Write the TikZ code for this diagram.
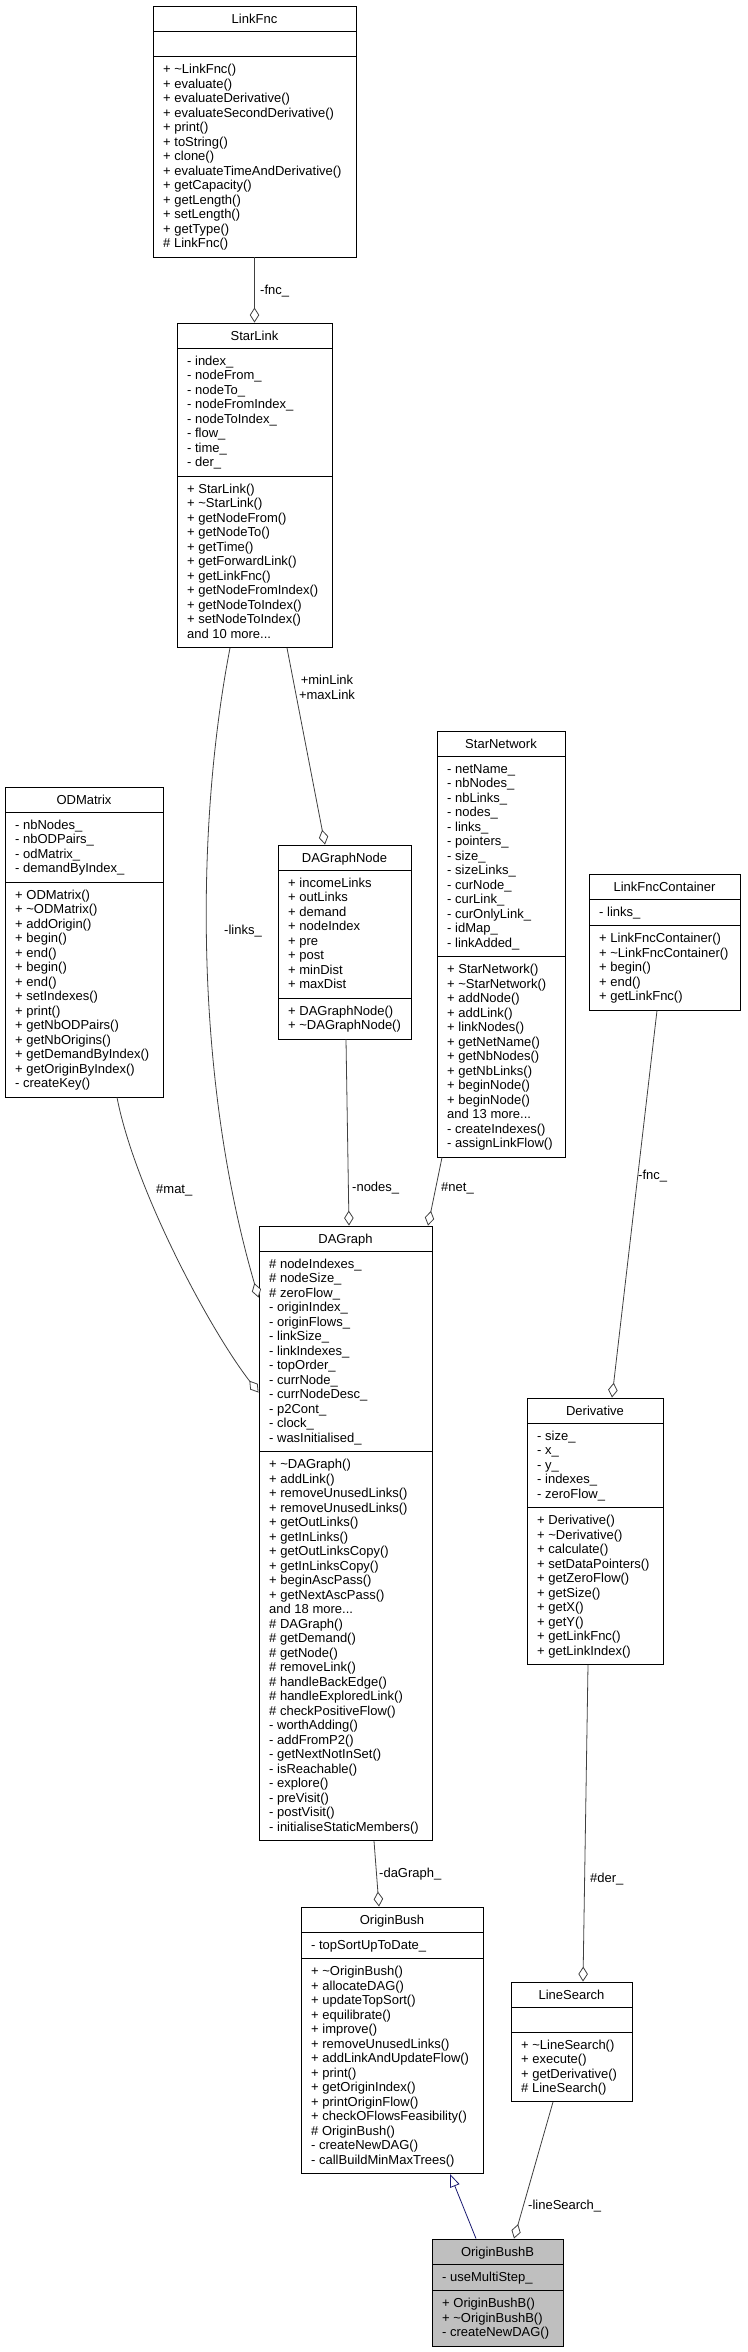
\documentclass[tikz,border=0pt]{standalone}
\usepackage{fontspec}
\setmainfont{Liberation Sans}
\usetikzlibrary{arrows.meta,fit}
\definecolor{edgegray}{HTML}{404040}
\definecolor{midnightblue}{HTML}{191970}
\definecolor{bushgray}{HTML}{BFBFBF}
\newcommand{\umlfont}{\fontsize{13}{14.5}\selectfont}
\newcommand{\dtor}{\textasciitilde}
\tikzset{
  classbox/.style={draw=black, line width=0.9pt, inner sep=0pt},
  classname/.style={anchor=base, inner sep=0pt, font=\umlfont},
  members/.style={anchor=north west, inner sep=0pt, align=left, font=\umlfont},
  elabel/.style={anchor=base west, inner sep=0pt, font=\umlfont},
  agg/.style={draw=edgegray, line width=0.8pt, -{Diamond[fill=white, length=15pt, width=9.5pt]}},
  inherit/.style={draw=midnightblue, line width=0.8pt, -{Triangle[fill=white, length=13pt, width=10pt]}}
}
\begin{document}
\begin{tikzpicture}[x=1pt, y=-1pt]
\useasboundingbox (0,0) rectangle (747,2352);
% LinkFnc
\node[classbox, fit={(153,6.5) (356,257)}] (linkfnc) {};
\node[classname] (linkfncname) at (254.5,23.5) {LinkFnc};
\draw (153,31.5) -- (356,31.5);
\draw (153,56.5) -- (356,56.5);
\node[members] (linkfncops) at (163,63.6) {\strut+ \dtor LinkFnc()\\+ evaluate()\\+ evaluateDerivative()\\+ evaluateSecondDerivative()\\+ print()\\+ toString()\\+ clone()\\+ evaluateTimeAndDerivative()\\+ getCapacity()\\+ getLength()\\+ setLength()\\+ getType()\\\# LinkFnc()};
% StarLink
\node[classbox, fit={(177,323) (332,647.5)}] (starlink) {};
\node[classname] (starlinkname) at (254.5,340) {StarLink};
\draw (177,348) -- (332,348);
\draw (177,476) -- (332,476);
\node[members] (starlinkattr) at (187,355.1) {\strut- index\_\\- nodeFrom\_\\- nodeTo\_\\- nodeFromIndex\_\\- nodeToIndex\_\\- flow\_\\- time\_\\- der\_};
\node[members] (starlinkops) at (187,483.1) {\strut+ StarLink()\\+ \dtor StarLink()\\+ getNodeFrom()\\+ getNodeTo()\\+ getTime()\\+ getForwardLink()\\+ getLinkFnc()\\+ getNodeFromIndex()\\+ getNodeToIndex()\\+ setNodeToIndex()\\and 10 more...};
% ODMatrix
\node[classbox, fit={(5,787) (163,1097)}] (odmatrix) {};
\node[classname] (odmatrixname) at (84,804) {ODMatrix};
\draw (5,812) -- (163,812);
\draw (5,882) -- (163,882);
\node[members] (odmatrixattr) at (15,819.1) {\strut- nbNodes\_\\- nbODPairs\_\\- odMatrix\_\\- demandByIndex\_};
\node[members] (odmatrixops) at (15,889.1) {\strut+ ODMatrix()\\+ \dtor ODMatrix()\\+ addOrigin()\\+ begin()\\+ end()\\+ begin()\\+ end()\\+ setIndexes()\\+ print()\\+ getNbODPairs()\\+ getNbOrigins()\\+ getDemandByIndex()\\+ getOriginByIndex()\\- createKey()};
% DAGraphNode
\node[classbox, fit={(278,845) (411,1039)}] (dagraphnode) {};
\node[classname] (dagraphnodename) at (344.5,862) {DAGraphNode};
\draw (278,870) -- (411,870);
\draw (278,998) -- (411,998);
\node[members] (dagraphnodeattr) at (288,877.1) {\strut+ incomeLinks\\+ outLinks\\+ demand\\+ nodeIndex\\+ pre\\+ post\\+ minDist\\+ maxDist};
\node[members] (dagraphnodeops) at (288,1005.1) {\strut+ DAGraphNode()\\+ \dtor DAGraphNode()};
% StarNetwork
\node[classbox, fit={(437,731) (565,1157)}] (starnetwork) {};
\node[classname] (starnetworkname) at (501,748) {StarNetwork};
\draw (437,756) -- (565,756);
\draw (437,956.5) -- (565,956.5);
\node[members] (starnetworkattr) at (447,763.1) {\strut- netName\_\\- nbNodes\_\\- nbLinks\_\\- nodes\_\\- links\_\\- pointers\_\\- size\_\\- sizeLinks\_\\- curNode\_\\- curLink\_\\- curOnlyLink\_\\- idMap\_\\- linkAdded\_};
\node[members] (starnetworkops) at (447,963.6) {\strut+ StarNetwork()\\+ \dtor StarNetwork()\\+ addNode()\\+ addLink()\\+ linkNodes()\\+ getNetName()\\+ getNbNodes()\\+ getNbLinks()\\+ beginNode()\\+ beginNode()\\and 13 more...\\- createIndexes()\\- assignLinkFlow()};
% LinkFncContainer
\node[classbox, fit={(589,874) (740,1010)}] (linkfnccontainer) {};
\node[classname] (linkfnccontainername) at (664.5,891) {LinkFncContainer};
\draw (589,899) -- (740,899);
\draw (589,925.5) -- (740,925.5);
\node[members] (linkfnccontainerattr) at (599,906.1) {\strut- links\_};
\node[members] (linkfnccontainerops) at (599,932.6) {\strut+ LinkFncContainer()\\+ \dtor LinkFncContainer()\\+ begin()\\+ end()\\+ getLinkFnc()};
% DAGraph
\node[classbox, fit={(259,1226) (432,1840.5)}] (dagraph) {};
\node[classname] (dagraphname) at (345.5,1243) {DAGraph};
\draw (259,1251) -- (432,1251);
\draw (259,1451.5) -- (432,1451.5);
\node[members] (dagraphattr) at (269,1258.1) {\strut\# nodeIndexes\_\\\# nodeSize\_\\\# zeroFlow\_\\- originIndex\_\\- originFlows\_\\- linkSize\_\\- linkIndexes\_\\- topOrder\_\\- currNode\_\\- currNodeDesc\_\\- p2Cont\_\\- clock\_\\- wasInitialised\_};
\node[members] (dagraphops) at (269,1458.6) {\strut+ \dtor DAGraph()\\+ addLink()\\+ removeUnusedLinks()\\+ removeUnusedLinks()\\+ getOutLinks()\\+ getInLinks()\\+ getOutLinksCopy()\\+ getInLinksCopy()\\+ beginAscPass()\\+ getNextAscPass()\\and 18 more...\\\# DAGraph()\\\# getDemand()\\\# getNode()\\\# removeLink()\\\# handleBackEdge()\\\# handleExploredLink()\\\# checkPositiveFlow()\\- worthAdding()\\- addFromP2()\\- getNextNotInSet()\\- isReachable()\\- explore()\\- preVisit()\\- postVisit()\\- initialiseStaticMembers()};
% Derivative
\node[classbox, fit={(527,1398) (663,1664.5)}] (derivative) {};
\node[classname] (derivativename) at (595,1415) {Derivative};
\draw (527,1423) -- (663,1423);
\draw (527,1507.5) -- (663,1507.5);
\node[members] (derivativeattr) at (537,1430.1) {\strut- size\_\\- x\_\\- y\_\\- indexes\_\\- zeroFlow\_};
\node[members] (derivativeops) at (537,1514.6) {\strut+ Derivative()\\+ \dtor Derivative()\\+ calculate()\\+ setDataPointers()\\+ getZeroFlow()\\+ getSize()\\+ getX()\\+ getY()\\+ getLinkFnc()\\+ getLinkIndex()};
% OriginBush
\node[classbox, fit={(301,1907) (483,2173.5)}] (originbush) {};
\node[classname] (originbushname) at (392,1924) {OriginBush};
\draw (301,1932) -- (483,1932);
\draw (301,1958.5) -- (483,1958.5);
\node[members] (originbushattr) at (311,1939.1) {\strut- topSortUpToDate\_};
\node[members] (originbushops) at (311,1965.6) {\strut+ \dtor OriginBush()\\+ allocateDAG()\\+ updateTopSort()\\+ equilibrate()\\+ improve()\\+ removeUnusedLinks()\\+ addLinkAndUpdateFlow()\\+ print()\\+ getOriginIndex()\\+ printOriginFlow()\\+ checkOFlowsFeasibility()\\\# OriginBush()\\- createNewDAG()\\- callBuildMinMaxTrees()};
% LineSearch
\node[classbox, fit={(511,1982) (632,2101.5)}] (linesearch) {};
\node[classname] (linesearchname) at (571.5,1999) {LineSearch};
\draw (511,2007) -- (632,2007);
\draw (511,2032) -- (632,2032);
\node[members] (linesearchops) at (521,2039.1) {\strut+ \dtor LineSearch()\\+ execute()\\+ getDerivative()\\\# LineSearch()};
% OriginBushB
\node[classbox, fill=bushgray, fit={(432,2239) (563,2346)}] (originbushb) {};
\node[classname] (originbushbname) at (497.5,2256) {OriginBushB};
\draw (432,2264) -- (563,2264);
\draw (432,2290.5) -- (563,2290.5);
\node[members] (originbushbattr) at (442,2271.1) {\strut- useMultiStep\_};
\node[members] (originbushbops) at (442,2297.6) {\strut+ OriginBushB()\\+ \dtor OriginBushB()\\- createNewDAG()};
% connectors
\draw[agg] (linkfnc.south) -- (starlink.north);
\draw[agg] ([xshift=-24.5pt]starlink.south) .. controls (195,830) and (195,1080) .. ([yshift=-72pt]dagraph.north west);
\draw[agg] ([xshift=32.5pt]starlink.south) -- ([xshift=-19.5pt]dagraphnode.north);
\draw[agg] ([xshift=1.5pt]dagraphnode.south) -- ([xshift=3.5pt]dagraph.north);
\draw[agg] ([xshift=-59pt]starnetwork.south) -- ([xshift=82.5pt]dagraph.north);
\draw[agg] ([xshift=33pt]odmatrix.south) .. controls (135,1190) and (210,1330) .. ([yshift=-167pt]dagraph.north west);
\draw[agg] ([xshift=-7.5pt]linkfnccontainer.south) -- ([xshift=17pt]derivative.north);
\draw[agg] ([xshift=-7pt]derivative.south) -- ([xshift=11.5pt]linesearch.north);
\draw[agg] ([xshift=28.5pt]dagraph.south) -- ([xshift=-13pt]originbush.north);
\draw[agg] ([xshift=-18.5pt]linesearch.south) -- ([xshift=16.5pt]originbushb.north);
\draw[inherit] ([xshift=-21.5pt]originbushb.north) -- ([xshift=58pt]originbush.south);
% labels
\node[elabel] (fnclabel) at (260,294) {-fnc\_};
\node[anchor=north, inner sep=0pt, align=center, font=\umlfont] (linklabel) at (327,674.4) {\strut+minLink\\+maxLink};
\node[elabel] (linkslabel) at (224,934) {-links\_};
\node[elabel] (nodeslabel) at (352,1191) {-nodes\_};
\node[elabel] (netlabel) at (441,1191) {\#net\_};
\node[elabel] (matlabel) at (156,1193) {\#mat\_};
\node[elabel] (fncclabel) at (638,1179) {-fnc\_};
\node[elabel] (derlabel) at (590,1882) {\#der\_};
\node[elabel] (dagraphlabel) at (379,1877) {-daGraph\_};
\node[elabel] (linesearchlabel) at (528,2209) {-lineSearch\_};
\end{tikzpicture}
\end{document}
